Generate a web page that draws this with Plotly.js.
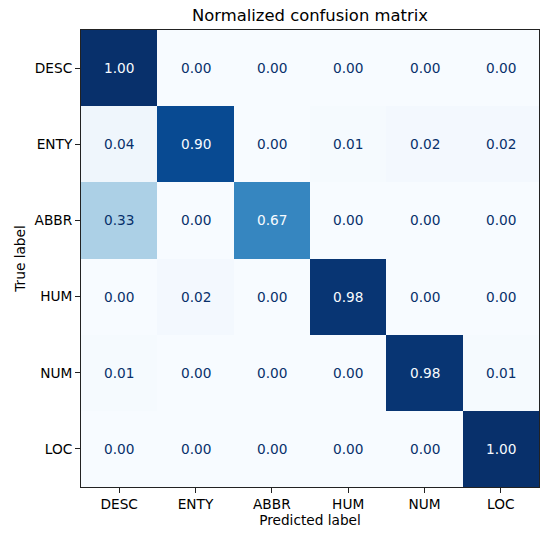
<!DOCTYPE html>
<html>
<head>
<meta charset="utf-8">
<script src="https://cdn.plot.ly/plotly-3.0.1.min.js"></script>
<style>
  html, body { margin: 0; padding: 0; background: #fff; }
  #chart { width: 550px; height: 535px; }
</style>
</head>
<body>
<div id="chart"></div>
<script>
// class labels, same order on both axes
var labels = ['DESC', 'ENTY', 'ABBR', 'HUM', 'NUM', 'LOC'];

// normalized confusion matrix rows (true label)
var rowDESC = [1.00, 0.00, 0.00, 0.00, 0.00, 0.00];
var rowENTY = [0.04, 0.90, 0.00, 0.01, 0.02, 0.02];
var rowABBR = [0.33, 0.00, 0.67, 0.00, 0.00, 0.00];
var rowHUM  = [0.00, 0.02, 0.00, 0.98, 0.00, 0.00];
var rowNUM  = [0.01, 0.00, 0.00, 0.00, 0.98, 0.01];
var rowLOC  = [0.00, 0.00, 0.00, 0.00, 0.00, 1.00];

var z = [rowDESC, rowENTY, rowABBR, rowHUM, rowNUM, rowLOC];

// matplotlib "Blues"
var blues = [
  [0.000, '#f7fbff'], [0.125, '#deebf7'], [0.250, '#c6dbef'],
  [0.375, '#9ecae1'], [0.500, '#6baed6'], [0.625, '#4292c6'],
  [0.750, '#2171b5'], [0.875, '#08519c'], [1.000, '#08306b']
];

var fs = 13.7;

var annotations = [];
z.forEach(function (row, i) {
  row.forEach(function (v, j) {
    annotations.push({
      x: labels[j], y: labels[i], xref: 'x', yref: 'y',
      text: v.toFixed(2), showarrow: false,
      font: { family: 'DejaVu Sans', size: fs, color: v > 0.5 ? '#f7fbff' : '#08306b' }
    });
  });
});

var data = [{
  type: 'heatmap',
  x: labels,
  y: labels,
  z: z,
  zmin: 0,
  zmax: 1,
  colorscale: blues,
  showscale: false,
  hoverinfo: 'skip'
}];

var axisCommon = {
  showgrid: false, zeroline: false,
  showline: true, mirror: true, linecolor: '#222', linewidth: 1,
  ticks: 'outside', ticklen: 5, tickwidth: 1, tickcolor: '#222',
  tickfont: { family: 'DejaVu Sans', size: fs, color: '#000' }
};

var layout = {
  width: 550,
  height: 535,
  margin: { l: 81, r: 11, t: 30, b: 48 },
  paper_bgcolor: '#fff',
  plot_bgcolor: '#fff',
  font: { family: 'DejaVu Sans', color: '#000' },
  title: {
    text: 'Normalized confusion matrix',
    font: { family: 'DejaVu Sans', size: 16.4, color: '#000' },
    x: 0.5636, xanchor: 'center', xref: 'container',
    y: 0.972, yanchor: 'middle', yref: 'container'
  },
  xaxis: Object.assign({}, axisCommon, {
    type: 'category',
    title: { text: 'Predicted label', font: { family: 'DejaVu Sans', size: fs, color: '#000' }, standoff: 3 }
  }),
  yaxis: Object.assign({}, axisCommon, {
    type: 'category',
    autorange: 'reversed',
    title: { text: 'True label', font: { family: 'DejaVu Sans', size: fs, color: '#000' }, standoff: 5 }
  }),
  annotations: annotations
};

Plotly.newPlot('chart', data, layout, { displayModeBar: false, staticPlot: true });
</script>
</body>
</html>
